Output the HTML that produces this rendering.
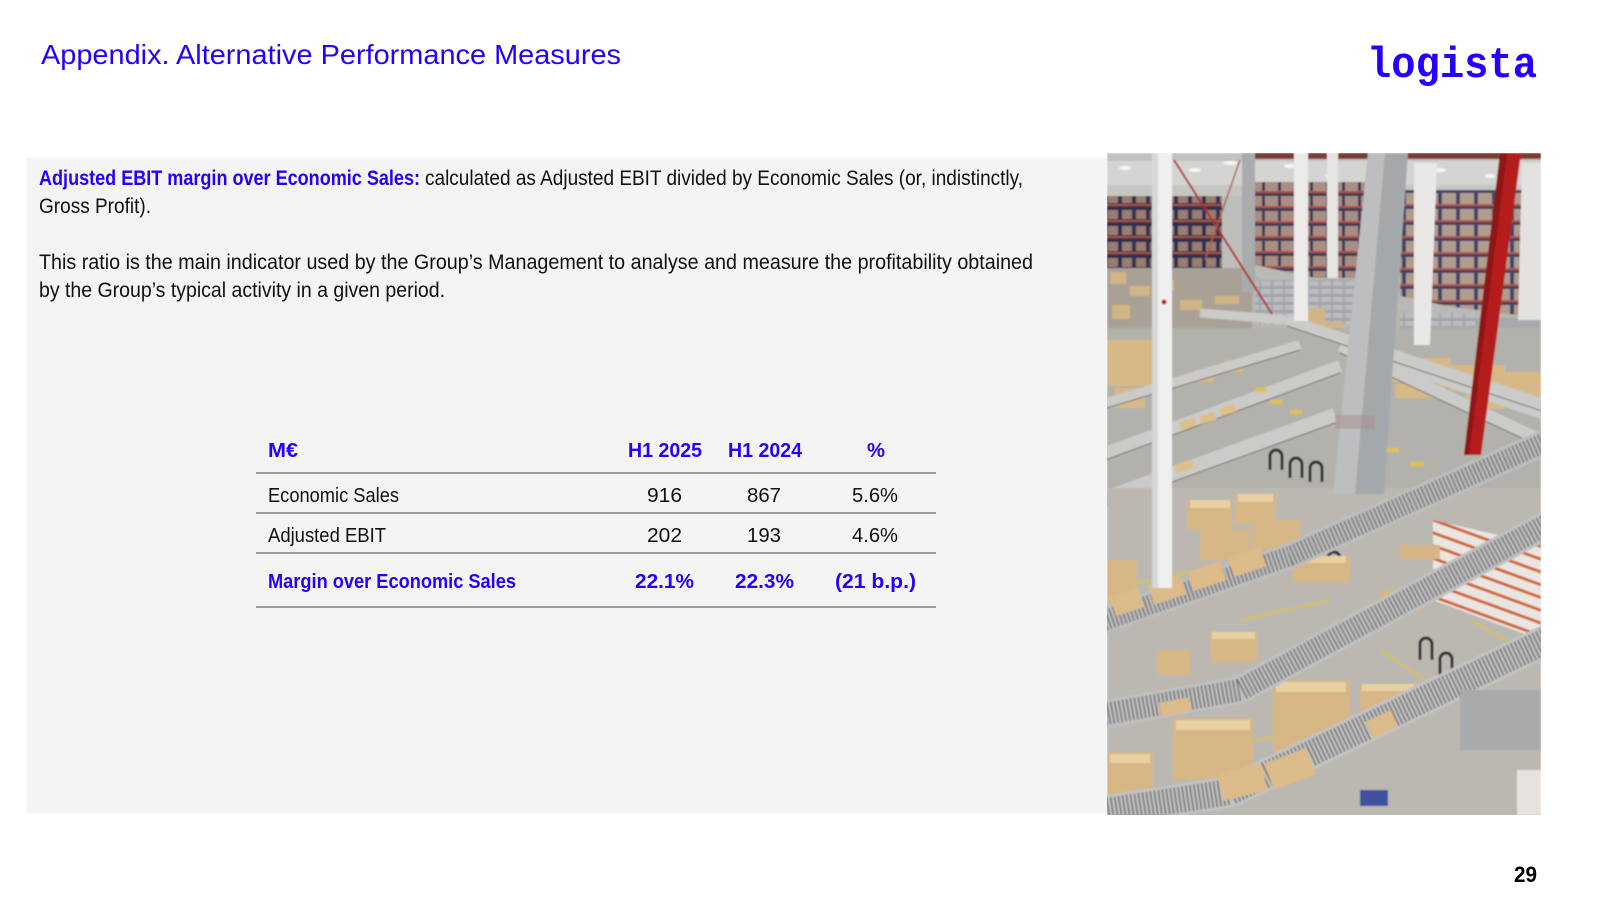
<!DOCTYPE html>
<html>
<head>
<meta charset="utf-8">
<style>
  html,body{margin:0;padding:0;background:#ffffff;}
  body{width:1600px;height:900px;overflow:hidden;}
  svg{display:block;}
  text{font-family:"Liberation Sans", Arial, sans-serif;}
</style>
</head>
<body>
<svg width="1600" height="900" viewBox="0 0 1600 900" xmlns="http://www.w3.org/2000/svg">
  <defs>
    <clipPath id="pc"><rect x="1107" y="153" width="434" height="662"/></clipPath>
    <filter id="soft" x="0" y="0" width="1" height="1"><feGaussianBlur stdDeviation="0.7"/></filter>
    <pattern id="rackL" width="14" height="16" patternUnits="userSpaceOnUse">
      <rect width="14" height="16" fill="#2a3152"/>
      <rect x="2" y="2" width="10" height="9" fill="#9a7d70"/>
      <rect y="12" width="14" height="2" fill="#a9553a"/>
    </pattern>
    <pattern id="rackM" width="16" height="15" patternUnits="userSpaceOnUse">
      <rect width="16" height="15" fill="#3a3d5a"/>
      <rect x="1" y="1" width="13" height="10" fill="#a88e84"/>
      <rect y="11" width="16" height="2" fill="#b4533a"/>
    </pattern>
    <pattern id="rackR" width="18" height="16" patternUnits="userSpaceOnUse">
      <rect width="18" height="16" fill="#3c4468"/>
      <rect x="2" y="1" width="14" height="11" fill="#b19c90"/>
      <rect y="12" width="18" height="2" fill="#b55a3e"/>
    </pattern>
    <pattern id="bins" width="12" height="8" patternUnits="userSpaceOnUse">
      <rect width="12" height="8" fill="#a2a6ab"/>
      <rect x="1" y="1" width="10" height="5" fill="#b9bcc0"/>
    </pattern>
    <pattern id="shelf" width="20" height="12" patternUnits="userSpaceOnUse" patternTransform="rotate(20)">
      <rect width="20" height="12" fill="#e9e6e2"/>
      <rect y="9" width="20" height="3" fill="#d0622e"/>
    </pattern>
  </defs>

  <!-- Title -->
  <text x="41" y="64" font-size="28" fill="#2400ff" textLength="580" lengthAdjust="spacingAndGlyphs">Appendix. Alternative Performance Measures</text>

  <!-- Logo -->
  <text x="1367" y="77" font-size="44" font-weight="bold" fill="#2400ff" style="font-family:'Liberation Mono', monospace;" textLength="170" lengthAdjust="spacingAndGlyphs">logista</text>

  <!-- Gray panel -->
  <rect x="26" y="158" width="1081" height="655" fill="#f4f4f4"/>

  <!-- Paragraph 1 -->
  <text x="39" y="185" font-size="21" font-weight="bold" fill="#2400ff" textLength="381" lengthAdjust="spacingAndGlyphs">Adjusted EBIT margin over Economic Sales:</text>
  <text x="425" y="185" font-size="21" fill="#111111" textLength="598" lengthAdjust="spacingAndGlyphs">calculated as Adjusted EBIT divided by Economic Sales (or, indistinctly,</text>
  <text x="39" y="213" font-size="21" fill="#111111" textLength="112" lengthAdjust="spacingAndGlyphs">Gross Profit).</text>

  <!-- Paragraph 2 -->
  <text x="39" y="269" font-size="21" fill="#111111" textLength="994" lengthAdjust="spacingAndGlyphs">This ratio is the main indicator used by the Group’s Management to analyse and measure the profitability obtained</text>
  <text x="39" y="297" font-size="21" fill="#111111" textLength="406" lengthAdjust="spacingAndGlyphs">by the Group’s typical activity in a given period.</text>

  <!-- Table -->
  <g font-size="20">
    <text x="268" y="457" font-weight="bold" fill="#2400ff" textLength="30" lengthAdjust="spacingAndGlyphs">M€</text>
    <text x="628" y="457" font-weight="bold" fill="#2400ff" textLength="74" lengthAdjust="spacingAndGlyphs">H1 2025</text>
    <text x="728" y="457" font-weight="bold" fill="#2400ff" textLength="74" lengthAdjust="spacingAndGlyphs">H1 2024</text>
    <text x="867" y="457" font-weight="bold" fill="#2400ff" textLength="18" lengthAdjust="spacingAndGlyphs">%</text>

    <line x1="256" y1="473" x2="936" y2="473" stroke="#9c9c9c" stroke-width="2"/>

    <text x="268" y="502" fill="#111111" textLength="131" lengthAdjust="spacingAndGlyphs">Economic Sales</text>
    <text x="647" y="502" fill="#111111" textLength="35" lengthAdjust="spacingAndGlyphs">916</text>
    <text x="747" y="502" fill="#111111" textLength="34" lengthAdjust="spacingAndGlyphs">867</text>
    <text x="852" y="502" fill="#111111" textLength="46" lengthAdjust="spacingAndGlyphs">5.6%</text>

    <line x1="256" y1="513" x2="936" y2="513" stroke="#9c9c9c" stroke-width="2"/>

    <text x="268" y="542" fill="#111111" textLength="118" lengthAdjust="spacingAndGlyphs">Adjusted EBIT</text>
    <text x="647" y="542" fill="#111111" textLength="35" lengthAdjust="spacingAndGlyphs">202</text>
    <text x="747" y="542" fill="#111111" textLength="34" lengthAdjust="spacingAndGlyphs">193</text>
    <text x="852" y="542" fill="#111111" textLength="46" lengthAdjust="spacingAndGlyphs">4.6%</text>

    <line x1="256" y1="553" x2="936" y2="553" stroke="#9c9c9c" stroke-width="2"/>

    <text x="268" y="588" font-weight="bold" fill="#2400ff" textLength="248" lengthAdjust="spacingAndGlyphs">Margin over Economic Sales</text>
    <text x="635" y="588" font-weight="bold" fill="#2400ff" textLength="59" lengthAdjust="spacingAndGlyphs">22.1%</text>
    <text x="735" y="588" font-weight="bold" fill="#2400ff" textLength="59" lengthAdjust="spacingAndGlyphs">22.3%</text>
    <text x="835" y="588" font-weight="bold" fill="#2400ff" textLength="81" lengthAdjust="spacingAndGlyphs">(21 b.p.)</text>

    <line x1="256" y1="607" x2="936" y2="607" stroke="#9c9c9c" stroke-width="2"/>
  </g>

  <!-- Page number -->
  <text x="1514" y="882" font-size="22" font-weight="bold" fill="#000000" textLength="23" lengthAdjust="spacingAndGlyphs">29</text>

  <!-- Warehouse photo approximation -->
  <g clip-path="url(#pc)">
   <g filter="url(#soft)">
    <rect x="1107" y="153" width="434" height="662" fill="#b8b5ae"/>
    <!-- ceiling -->
    <rect x="1107" y="153" width="434" height="45" fill="#d4d4d2"/>
    <rect x="1107" y="153" width="434" height="8" fill="#c2c2c0"/>
    <g fill="#f6f6f4">
      <ellipse cx="1125" cy="168" rx="6" ry="2"/><ellipse cx="1195" cy="170" rx="6" ry="2"/>
      <ellipse cx="1230" cy="163" rx="7" ry="2"/><ellipse cx="1290" cy="166" rx="6" ry="2"/>
      <ellipse cx="1330" cy="176" rx="5" ry="2"/><ellipse cx="1440" cy="170" rx="6" ry="2"/>
      <ellipse cx="1490" cy="176" rx="5" ry="2"/><ellipse cx="1530" cy="168" rx="5" ry="2"/>
    </g>
    <rect x="1245" y="153" width="296" height="6" fill="#7a3b30"/>
    <!-- back wall -->
    <rect x="1107" y="185" width="434" height="15" fill="#c6c6c3"/>
    <!-- racks -->
    <rect x="1107" y="196" width="115" height="72" fill="url(#rackL)"/>
    <rect x="1222" y="196" width="32" height="92" fill="#bdbdbb"/>
    <rect x="1254" y="182" width="112" height="96" fill="url(#rackM)"/>
    <polygon points="1400,190 1541,190 1541,318 1400,300" fill="url(#rackR)"/>
    <!-- long conveyor in front of right racks -->
    <polygon points="1250,264 1541,326 1541,340 1250,276" fill="#b9b9b6"/>
    <!-- floor under racks -->
    <rect x="1107" y="268" width="145" height="60" fill="#aaa196"/>
    <rect x="1255" y="280" width="140" height="45" fill="url(#bins)"/>
    <rect x="1400" y="318" width="140" height="40" fill="#a7a9ac"/>
    <rect x="1400" y="313" width="75" height="38" fill="url(#bins)"/>
    <rect x="1490" y="335" width="51" height="30" fill="url(#bins)"/>
    <g fill="#d1b585">
      <rect x="1110" y="272" width="16" height="12"/><rect x="1130" y="286" width="20" height="10"/>
      <rect x="1160" y="280" width="14" height="10"/><rect x="1180" y="300" width="22" height="10"/>
      <rect x="1112" y="305" width="18" height="14"/><rect x="1215" y="296" width="24" height="8"/>
      <rect x="1300" y="308" width="25" height="16"/><rect x="1322" y="322" width="22" height="12"/>
      <rect x="1300" y="325" width="45" height="12"/>
      <rect x="1420" y="345" width="30" height="10"/>
    </g>
    <!-- mid structure zone -->
    <rect x="1107" y="328" width="434" height="160" fill="#b3b1ab"/>
    <g fill="#d6b986">
      <rect x="1107" y="340" width="45" height="46"/>
      <rect x="1115" y="388" width="30" height="20"/>
      <rect x="1390" y="358" width="60" height="24"/>
      <rect x="1450" y="365" width="55" height="26"/>
      <rect x="1505" y="372" width="36" height="30"/>
      <rect x="1395" y="384" width="50" height="14"/>
      <rect x="1465" y="395" width="40" height="14"/>
      <rect x="1195" y="370" width="18" height="12"/>
      <rect x="1225" y="360" width="18" height="12"/>
    </g>
    <g stroke="#cbcbc9" stroke-linecap="butt">
      <line x1="1100" y1="405" x2="1300" y2="345" stroke-width="10"/>
      <line x1="1100" y1="455" x2="1340" y2="366" stroke-width="12"/>
      <line x1="1100" y1="500" x2="1335" y2="415" stroke-width="14"/>
      <line x1="1200" y1="313" x2="1287" y2="320" stroke-width="9"/>
      <line x1="1287" y1="320" x2="1545" y2="405" stroke-width="11"/>
      <line x1="1340" y1="346" x2="1545" y2="442" stroke-width="12"/>
      <line x1="1383" y1="360" x2="1545" y2="415" stroke-width="10"/>
    </g>
    <g stroke="#6f6f6f" stroke-width="1">
      <line x1="1100" y1="410" x2="1300" y2="350"/>
      <line x1="1100" y1="462" x2="1340" y2="373"/>
      <line x1="1100" y1="508" x2="1335" y2="423"/>
      <line x1="1287" y1="326" x2="1545" y2="412"/>
      <line x1="1340" y1="353" x2="1545" y2="449"/>
    </g>
    <g fill="#dcc088">
      <rect x="1180" y="420" width="16" height="8" transform="rotate(-18 1188 424)"/>
      <rect x="1200" y="414" width="16" height="8" transform="rotate(-18 1208 418)"/>
      <rect x="1220" y="406" width="16" height="8" transform="rotate(-18 1228 410)"/>
      <rect x="1150" y="470" width="18" height="9" transform="rotate(-18 1159 474)"/>
      <rect x="1175" y="462" width="18" height="9" transform="rotate(-18 1184 466)"/>
    </g>
    <g fill="#e3c14a">
      <rect x="1255" y="388" width="12" height="4"/><rect x="1270" y="400" width="12" height="4"/>
      <rect x="1290" y="410" width="12" height="4"/><rect x="1385" y="448" width="14" height="4"/>
      <rect x="1410" y="462" width="14" height="4"/>
    </g>
    <!-- lower floor -->
    <rect x="1107" y="488" width="434" height="330" fill="#bbb8b1"/>
    <g stroke="#d8c04a" stroke-width="2">
      <line x1="1107" y1="590" x2="1200" y2="570"/>
      <line x1="1240" y1="620" x2="1330" y2="600"/>
      <line x1="1190" y1="755" x2="1280" y2="735"/>
      <line x1="1380" y1="650" x2="1440" y2="690"/>
      <line x1="1470" y1="620" x2="1541" y2="660"/>
    </g>
    <!-- right shelving -->
    <polygon points="1433,520 1541,545 1541,640 1433,600" fill="url(#shelf)"/>
    <!-- barriers -->
    <g stroke="#2a2a2a" stroke-width="3" fill="none">
      <path d="M1270,470 v-14 a6,6 0 0 1 12,0 v14"/>
      <path d="M1290,478 v-14 a6,6 0 0 1 12,0 v14"/>
      <path d="M1310,482 v-14 a6,6 0 0 1 12,0 v14"/>
      <path d="M1300,560 v-14 a6,6 0 0 1 12,0 v14"/>
      <path d="M1328,572 v-14 a6,6 0 0 1 12,0 v14"/>
      <path d="M1420,660 v-16 a6,6 0 0 1 12,0 v16"/>
      <path d="M1440,675 v-16 a6,6 0 0 1 12,0 v16"/>
      <path d="M1465,690 v-16 a6,6 0 0 1 12,0 v16"/>
    </g>
    <!-- box clusters -->
    <g fill="#d7b685">
      <rect x="1187" y="500" width="45" height="30"/><rect x="1235" y="494" width="40" height="30"/>
      <rect x="1200" y="530" width="50" height="30"/><rect x="1252" y="520" width="48" height="30"/>
      <rect x="1273" y="680" width="77" height="75"/>
      <rect x="1173" y="718" width="80" height="62"/>
      <rect x="1107" y="752" width="46" height="48"/>
      <rect x="1107" y="560" width="30" height="60"/>
      <rect x="1210" y="632" width="47" height="30"/>
      <rect x="1293" y="556" width="57" height="26"/>
      <rect x="1360" y="684" width="57" height="27"/>
      <rect x="1157" y="650" width="33" height="25"/>
      <rect x="1380" y="590" width="45" height="20"/>
      <rect x="1400" y="545" width="40" height="14"/>
    </g>
    <g fill="#e8d0a2">
      <rect x="1190" y="500" width="40" height="8"/><rect x="1238" y="494" width="35" height="8"/>
      <rect x="1276" y="682" width="70" height="10"/><rect x="1176" y="720" width="74" height="10"/>
      <rect x="1110" y="754" width="40" height="9"/><rect x="1212" y="632" width="43" height="7"/>
      <rect x="1296" y="556" width="50" height="7"/><rect x="1362" y="684" width="52" height="7"/>
    </g>
    <!-- conveyors (lower, diagonal) -->
    <g fill="none" stroke-linejoin="round">
      <polyline points="1100,622 1290,556 1548,441" stroke="#bdbdbd" stroke-width="26"/>
      <polyline points="1100,622 1290,556 1548,441" stroke="#707070" stroke-width="20" stroke-dasharray="1.5 2.5"/>
      <polyline points="1100,715 1240,690 1548,524" stroke="#c0c0c0" stroke-width="28"/>
      <polyline points="1100,715 1240,690 1548,524" stroke="#6d6d6d" stroke-width="22" stroke-dasharray="1.5 2.5"/>
      <polyline points="1100,812 1230,792 1548,640" stroke="#c2c2c2" stroke-width="32"/>
      <polyline points="1100,812 1230,792 1548,640" stroke="#6a6a6a" stroke-width="26" stroke-dasharray="1.5 2.5"/>
    </g>
    <!-- boxes riding on belts -->
    <g fill="#dcbb8a">
      <rect x="1112" y="592" width="30" height="20" transform="rotate(-18 1127 602)"/>
      <rect x="1150" y="580" width="34" height="20" transform="rotate(-18 1167 590)"/>
      <rect x="1190" y="566" width="34" height="20" transform="rotate(-18 1207 576)"/>
      <rect x="1230" y="552" width="34" height="20" transform="rotate(-18 1247 562)"/>
      <rect x="1220" y="768" width="45" height="28" transform="rotate(-14 1242 782)"/>
      <rect x="1268" y="755" width="45" height="28" transform="rotate(-20 1290 770)"/>
      <rect x="1368" y="715" width="28" height="18" transform="rotate(-25 1382 724)"/>
      <rect x="1160" y="700" width="30" height="14" transform="rotate(-10 1175 707)"/>
    </g>
    <!-- bottom right items -->
    <rect x="1460" y="690" width="81" height="60" fill="#a9aaab"/>
    <rect x="1517" y="770" width="24" height="45" fill="#e6e3de"/>
    <rect x="1360" y="790" width="28" height="16" fill="#3f51a0"/>
    <!-- columns -->
    <polygon points="1242,153 1255,153 1255,292 1242,292" fill="#a9abad"/>
    <rect x="1294" y="153" width="14" height="168" fill="#ecebe9"/>
    <rect x="1327" y="153" width="11" height="125" fill="#e6e5e3"/>
    <polygon points="1414,163 1437,163 1430,345 1414,345" fill="#eae8e6"/>
    <polygon points="1522,163 1541,163 1541,320 1518,320" fill="#e4e2e0"/>
    <!-- gray duct -->
    <polygon points="1368,153 1408,153 1384,494 1333,494" fill="#a5a8ab"/>
    <polygon points="1368,153 1385,153 1355,494 1333,494" fill="#bcbec0"/>
    <rect x="1335" y="415" width="40" height="14" fill="#a88c8c" opacity="0.5"/>
    <!-- white column left -->
    <rect x="1152" y="153" width="20" height="435" fill="#efefef"/>
    <rect x="1152" y="153" width="6" height="435" fill="#d7d7d7"/>
    <circle cx="1164" cy="302" r="2.5" fill="#b22222"/>
    <!-- red diagonal bar -->
    <line x1="1174" y1="160" x2="1272" y2="314" stroke="#b02a2a" stroke-width="2"/>
    <line x1="1240" y1="160" x2="1205" y2="260" stroke="#b05a4a" stroke-width="1.5"/>
    <!-- red column -->
    <polygon points="1500,153 1521,153 1481,455 1464,455" fill="#b51d1b"/>
    <polygon points="1500,153 1507,153 1469,455 1464,455" fill="#8e1412"/>
   </g>
  </g>
</svg>
</body>
</html>
